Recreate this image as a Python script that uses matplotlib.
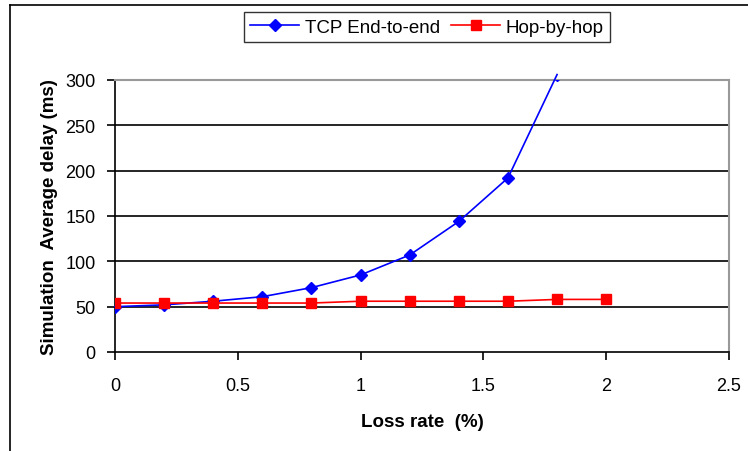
import matplotlib.pyplot as plt
from matplotlib.lines import Line2D

plt.rcParams['font.family'] = ['Liberation Sans', 'DejaVu Sans']

# data
loss_rate = [0, 0.2, 0.4, 0.6, 0.8, 1.0, 1.2, 1.4, 1.6, 1.8]
tcp_delay = [50, 52, 56, 61, 71, 85, 107, 144, 192, 306]
hop_rate = [0, 0.2, 0.4, 0.6, 0.8, 1.0, 1.2, 1.4, 1.6, 1.8, 2.0]
hop_delay = [54, 54, 54, 54, 54, 56, 56, 56, 56, 58, 58]
x_ticks = [0, 0.5, 1, 1.5, 2, 2.5]
x_labels = ['0', '0.5', '1', '1.5', '2', '2.5']
y_ticks = [0, 50, 100, 150, 200, 250, 300]

blue = '#0000ff'
red = '#ff0000'

fig = plt.figure(figsize=(7.48, 4.52), dpi=100)
ax = fig.add_axes([115 / 748, 99 / 452, (729 - 115) / 748, (353 - 81) / 452])

# grid lines like Excel
for y in y_ticks[1:-1]:
    ax.axhline(y, color='black', lw=1.2, zorder=1)

# the blue line runs a little past the top of the plot area, its last marker doesn't
ax.plot(loss_rate, tcp_delay, color=blue, lw=1.2, clip_on=False, zorder=3)
ax.plot(loss_rate, tcp_delay, color=blue, ls='none', marker='D', markersize=6, zorder=3)
ax.plot(hop_rate, hop_delay, color=red, lw=1.2, marker='s', markersize=7, zorder=3)

h1 = Line2D([], [], color=blue, lw=1.2, marker='D', markersize=6)
h2 = Line2D([], [], color=red, lw=1.2, marker='s', markersize=7)

ax.set_xlim(0, 2.5)
ax.set_ylim(0, 300)
ax.set_xticks(x_ticks)
ax.set_xticklabels(x_labels)
ax.set_yticks(y_ticks)
ax.tick_params(axis='both', direction='out', length=6, width=1.2,
               labelsize=13, color='black')
ax.tick_params(axis='x', pad=12)
ax.tick_params(axis='y', pad=8)

for side in ['left', 'bottom']:
    ax.spines[side].set_color('black')
    ax.spines[side].set_linewidth(1.2)
for side in ['top', 'right']:
    ax.spines[side].set_color('#999999')
    ax.spines[side].set_linewidth(1.5)

ax.set_xlabel('Loss rate  (%)', fontsize=13.5, fontweight='bold', labelpad=14)
ax.set_ylabel('Simulation  Average delay (ms)', fontsize=13.5,
              fontweight='bold', labelpad=5)

leg = fig.legend(handles=[h1, h2], labels=['TCP End-to-end', 'Hop-by-hop'],
                 loc='center', bbox_to_anchor=(427 / 748, 1 - 28 / 452),
                 ncol=2, frameon=True, fancybox=False, fontsize=13.5,
                 handlelength=2.6, columnspacing=0.6, handletextpad=0.3,
                 borderpad=0.35, borderaxespad=0)
leg.get_frame().set_edgecolor('black')
leg.get_frame().set_linewidth(1.0)

# outer chart border (top and left are visible in the crop)
fig.add_artist(Line2D([10 / 748, 1], [1 - 6 / 452, 1 - 6 / 452],
                      transform=fig.transFigure, color='black', lw=1.2))
fig.add_artist(Line2D([10 / 748, 10 / 748], [0, 1 - 6 / 452],
                      transform=fig.transFigure, color='black', lw=1.2))

fig.savefig('out.png', dpi=100)
